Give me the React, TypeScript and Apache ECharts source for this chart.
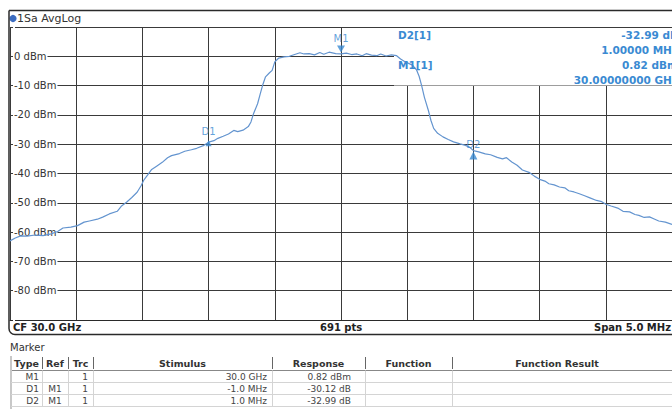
import React, { useEffect, useRef } from "react";
import * as echarts from "echarts";

// Trace: frequency offset from CF (MHz) and level (dBm)
const freqMHz = [
  -2.5, -2.46, -2.42, -2.37, -2.31, -2.25, -2.19, -2.14, -2.1, -2.04, -1.99, -1.94, -1.9, -1.84, -1.8,
  -1.75, -1.69, -1.66, -1.62, -1.58, -1.54, -1.51, -1.49, -1.46, -1.43, -1.39, -1.35, -1.31, -1.28,
  -1.22, -1.18, -1.13, -1.09, -1.04, -1.0, -0.96, -0.93, -0.89, -0.85, -0.81, -0.78, -0.74, -0.7,
  -0.68, -0.66, -0.63, -0.61, -0.59, -0.57, -0.54, -0.52, -0.5, -0.47, -0.43, -0.39, -0.35, -0.31,
  -0.28, -0.24, -0.2, -0.16, -0.13, -0.09, -0.04, 0.0, 0.04, 0.08, 0.12, 0.16, 0.19, 0.23, 0.27, 0.3,
  0.34, 0.38, 0.42, 0.45, 0.48, 0.51, 0.54, 0.57, 0.59, 0.61, 0.63, 0.66, 0.68, 0.7, 0.73, 0.77, 0.81,
  0.85, 0.9, 0.94, 0.97, 1.0, 1.04, 1.09, 1.13, 1.18, 1.22, 1.25, 1.29, 1.33, 1.37, 1.42, 1.46, 1.5,
  1.54, 1.57, 1.61, 1.65, 1.69, 1.72, 1.76, 1.8, 1.84, 1.88, 1.93, 1.97, 2.0, 2.04, 2.09, 2.13, 2.18,
  2.22, 2.25, 2.29, 2.33, 2.37, 2.4, 2.45, 2.5,
];
const levelDbm = [
  -63.0, -62.0, -61.3, -61.4, -61.0, -61.2, -60.6, -59.8, -58.6, -58.3, -57.8, -56.6, -56.2, -55.6, -54.9,
  -53.8, -52.9, -51.2, -49.8, -48.2, -46.4, -44.2, -42.3, -40.5, -38.6, -37.4, -36.2, -34.6, -33.9,
  -33.2, -32.4, -31.9, -31.4, -30.5, -29.3, -28.8, -28.0, -27.3, -26.5, -25.3, -25.7, -25.2, -24.0,
  -22.4, -19.5, -16.2, -12.8, -9.6, -7.0, -5.6, -4.8, -1.9, -0.6, -0.2, 0.0, 0.6, 1.2,
  0.8, 0.9, 0.5, 1.3, 0.7, 1.4, 0.9, 0.82, 1.1, 0.6, 0.8, 0.2, 0.9, 0.4, 0.2, 0.8,
  0.1, 0.5, 0.2, -0.9, -1.8, -2.4, -3.0, -4.6, -6.8, -10.2, -14.0, -18.5, -22.0, -24.6, -26.3, -27.5, -28.4,
  -29.2, -29.9, -30.4, -31.0, -32.17, -32.6, -33.3, -33.6, -34.5, -35.0, -34.6, -36.1, -37.2, -38.8, -39.6, -40.9, -42.0,
  -42.6, -43.5, -43.9, -44.6, -44.9, -45.9, -46.3, -46.9, -47.6, -48.3, -49.2, -49.6, -50.5, -51.1, -51.8, -52.9, -53.1,
  -54.0, -54.3, -55.0, -54.8, -55.6, -56.2, -56.6, -57.4,
];

// Markers
const markerNames = ["M1", "D1", "D2"];
const markerFreq = [0, -1, 1];
const markerLevel = [0.82, -29.3, -32.17];

// Info block (top right)
const infoLabels = ["D2[1]", "M1[1]"];
const infoValues = ["-32.99 dB", "1.00000 MHz", "0.82 dBm", "30.00000000 GHz"];

// Marker table
const tableHeaders = ["Type", "Ref", "Trc", "Stimulus", "Response", "Function", "Function Result"];
const rowType = ["M1", "D1", "D2"];
const rowRef = ["", "M1", "M1"];
const rowTrc = ["1", "1", "1"];
const rowStimulus = ["30.0 GHz", "-1.0 MHz", "1.0 MHz"];
const rowResponse = ["0.82 dBm", "-30.12 dB", "-32.99 dB"];

const yTickValues = [0, -10, -20, -30, -40, -50, -60, -70, -80];

const FONT = '"DejaVu Sans", Verdana, sans-serif';
const TRACE = "#6394cf";
const MK = "#3a8ad2";

export default function App() {
  const ref = useRef<HTMLDivElement>(null);
  useEffect(() => {
    if (!ref.current) return;
    const chart = echarts.init(ref.current, null, { renderer: "svg" });

    const g: any[] = [];
    // outer frame
    g.push({
      type: "rect", z: 5,
      shape: { x: 9, y: 10.5, width: 690, height: 324, r: [0, 0, 0, 6] },
      style: { fill: "none", stroke: "#2a2a2a", lineWidth: 1.5 },
    });
    // title
    g.push({ type: "circle", shape: { cx: 13, cy: 18.5, r: 3.6 }, style: { fill: "#3c6cc0" } });
    g.push({
      type: "text", x: 17, y: 18.5,
      style: { text: "1Sa AvgLog", font: `11px ${FONT}`, fill: "#333", verticalAlign: "middle" },
    });
    // info box hiding grid
    g.push({ type: "rect", z: 1, shape: { x: 394, y: 28, width: 300, height: 57.5 }, style: { fill: "#fff" } });
    infoLabels.forEach((t, i) => {
      g.push({
        type: "text", z: 3, x: 398, y: 35 + i * 30,
        style: { text: t, font: `bold 10.5px ${FONT}`, fill: MK, verticalAlign: "middle" },
      });
    });
    infoValues.forEach((t, i) => {
      g.push({
        type: "text", z: 3, x: 678, y: 35 + i * 15,
        style: { text: t, font: `bold 10.5px ${FONT}`, fill: MK, align: "right", verticalAlign: "middle" },
      });
    });
    // status bar
    g.push({ type: "text", x: 13, y: 327.5, style: { text: "CF 30.0 GHz", font: `bold 10px ${FONT}`, fill: "#222", verticalAlign: "middle" } });
    g.push({ type: "text", x: 320, y: 327.5, style: { text: "691 pts", font: `bold 10px ${FONT}`, fill: "#222", verticalAlign: "middle" } });
    g.push({ type: "text", x: 671, y: 327.5, style: { text: "Span 5.0 MHz", font: `bold 10px ${FONT}`, fill: "#222", align: "right", verticalAlign: "middle" } });

    // marker table
    g.push({ type: "text", x: 10, y: 347.5, style: { text: "Marker", font: `10px ${FONT}`, fill: "#333", verticalAlign: "middle" } });
    const colEdges = [11, 42, 68, 93, 272, 365, 452, 700];
    const headerY = 363;
    tableHeaders.forEach((h, i) => {
      const cx = (colEdges[i] + colEdges[i + 1]) / 2;
      const x = i === 6 ? 557 : cx;
      g.push({ type: "text", x, y: headerY, style: { text: h, font: `bold 9.5px ${FONT}`, fill: "#333", align: "center", verticalAlign: "middle" } });
      if (i < 6) {
        g.push({ type: "line", shape: { x1: colEdges[i + 1] + 0.5, y1: 357, x2: colEdges[i + 1] + 0.5, y2: 369 }, style: { stroke: "#666", lineWidth: 1 } });
      }
    });
    g.push({ type: "line", shape: { x1: 11, y1: 370.5, x2: 672, y2: 370.5 }, style: { stroke: "#888", lineWidth: 1 } });
    g.push({ type: "line", shape: { x1: 11, y1: 356, x2: 11, y2: 409 }, style: { stroke: "#c8c8c8", lineWidth: 2 } });
    const rowH = 12;
    rowType.forEach((t, r) => {
      const y0 = 370.5 + r * rowH;
      const cy = y0 + rowH / 2 + 0.5;
      g.push({ type: "line", shape: { x1: 11, y1: y0 + rowH, x2: 672, y2: y0 + rowH }, style: { stroke: "#d4d4d4", lineWidth: 1 } });
      [42, 68, 93, 272, 365, 452].forEach((cx2) => {
        g.push({ type: "line", shape: { x1: cx2 + 0.5, y1: y0, x2: cx2 + 0.5, y2: y0 + rowH }, style: { stroke: "#d4d4d4", lineWidth: 1 } });
      });
      const st = (text: string, x: number, align: string) => ({
        type: "text", x, y: cy,
        style: { text, font: `9px ${FONT}`, fill: "#444", align, verticalAlign: "middle" },
      });
      g.push(st(t, 39, "right"));
      g.push(st(rowRef[r], 55, "center"));
      g.push(st(rowTrc[r], 88, "right"));
      g.push(st(rowStimulus[r], 267, "right"));
      g.push(st(rowResponse[r], 351, "right"));
    });

    const trace = freqMHz.map((f, i) => [f, levelDbm[i]]);
    const markerSymbols = markerNames.map((n, i) => {
      const isM = n === "M1";
      return {
        value: [markerFreq[i], markerLevel[i]],
        symbol: "triangle",
        symbolRotate: isM ? 180 : 0,
        symbolSize: isM ? [8, 7] : n === "D1" ? [6, 6] : [8, 8],
        symbolOffset: isM ? [0, -5] : n === "D1" ? [0, 1] : [0, 5],
      };
    });
    const markerLabelOffsets: Record<string, number[]> = { M1: [0, -15], D1: [0, -11], D2: [0, -6] };
    const markerLabels = markerNames.map((n, i) => ({
      value: [markerFreq[i], markerLevel[i]],
      label: {
        show: true, formatter: n, position: "inside", offset: markerLabelOffsets[n],
        color: MK, textBorderWidth: 0, textBorderColor: "transparent",
      },
    }));

    chart.setOption({
      animation: false,
      backgroundColor: "#fff",
      grid: { left: 10, top: 27, width: 669, height: 293, containLabel: false },
      xAxis: {
        type: "value",
        min: -2.5,
        max: 2.5,
        interval: 0.5,
        axisLine: { show: true, onZero: false, lineStyle: { color: "#2a2a2a", width: 1 } },
        axisTick: { show: false },
        axisLabel: { show: false },
        splitLine: { show: true, lineStyle: { color: "#3a3a3a", width: 1 } },
      },
      yAxis: {
        type: "value",
        min: -90,
        max: 10,
        interval: 10,
        axisLine: { show: false },
        axisTick: { show: false },
        splitLine: { show: true, lineStyle: { color: "#3a3a3a", width: 1 } },
        axisLabel: {
          inside: true,
          margin: 3,
          color: "#333",
          fontFamily: FONT,
          fontSize: 10,
          backgroundColor: "#fff",
          padding: [1, 1, 1, 1],
          formatter: (v: number) => (yTickValues.includes(v) ? `${v} dBm` : ""),
        },
        z: 0,
      },
      graphic: g,
      series: [
        {
          type: "line",
          data: trace,
          showSymbol: false,
          symbol: "none",
          lineStyle: { color: TRACE, width: 1.2 },
          z: 2,
          silent: true,
        },
        {
          type: "scatter",
          data: markerSymbols,
          itemStyle: { color: MK },
          z: 4,
          silent: true,
        },
        {
          type: "scatter",
          data: markerLabels,
          symbolSize: 2,
          itemStyle: { color: "rgba(0,0,0,0)" },
          label: { color: MK, fontFamily: FONT, fontSize: 10 },
          z: 4,
          silent: true,
        },
      ],
    });
    return () => chart.dispose();
  }, []);
  return (
    <div
      ref={ref}
      style={{ position: "fixed", left: 0, top: 0, width: 672, height: 409, background: "#fff" }}
    />
  );
}
